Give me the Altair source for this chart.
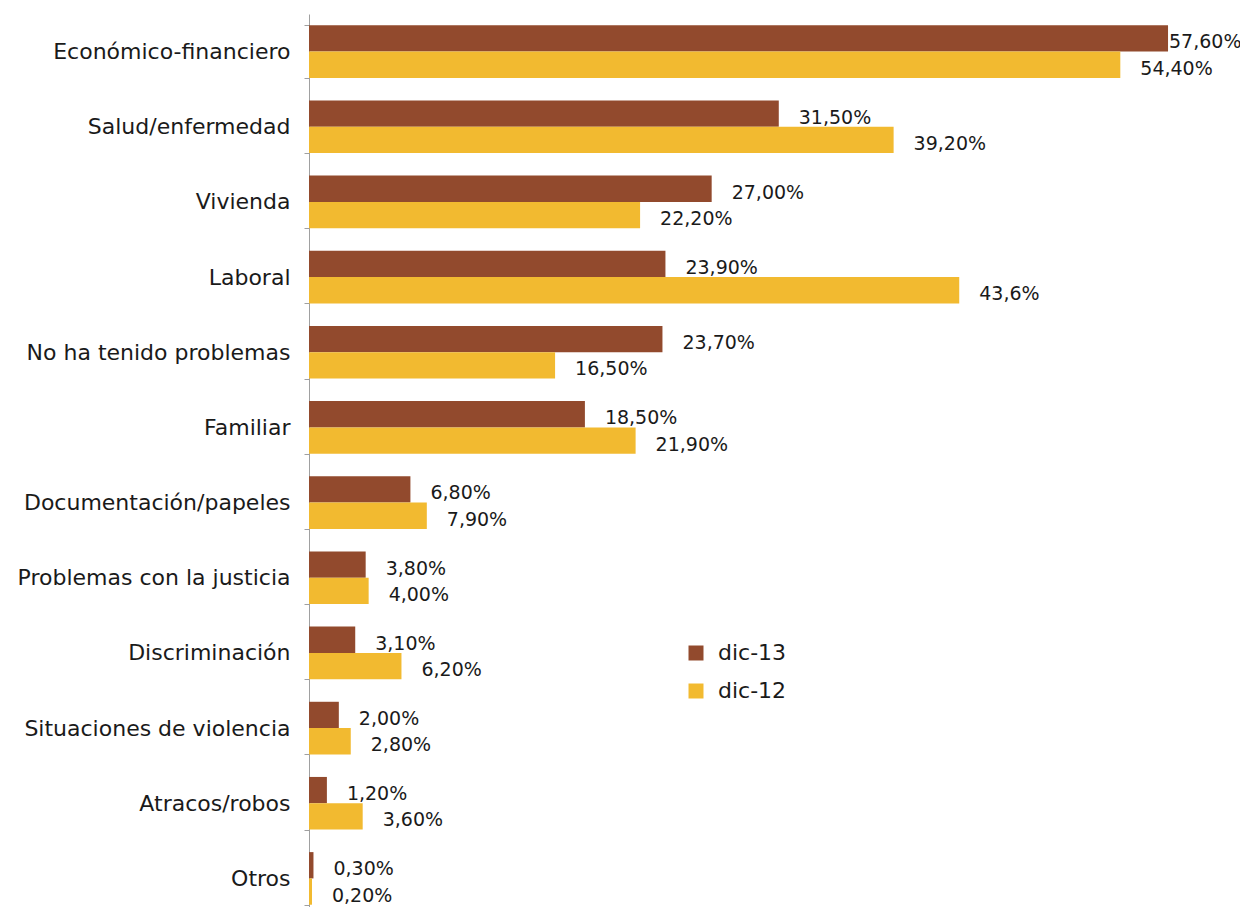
import altair as alt
import pandas as pd

categories = ["Económico-financiero", "Salud/enfermedad", "Vivienda", "Laboral",
              "No ha tenido problemas", "Familiar", "Documentación/papeles",
              "Problemas con la justicia", "Discriminación", "Situaciones de violencia",
              "Atracos/robos", "Otros"]
series = ["dic-13", "dic-12"]
dic13 = [57.6, 31.5, 27.0, 23.9, 23.7, 18.5, 6.8, 3.8, 3.1, 2.0, 1.2, 0.3]
dic12 = [54.4, 39.2, 22.2, 43.6, 16.5, 21.9, 7.9, 4.0, 6.2, 2.8, 3.6, 0.2]
labels13 = ["57,60%", "31,50%", "27,00%", "23,90%", "23,70%", "18,50%", "6,80%",
            "3,80%", "3,10%", "2,00%", "1,20%", "0,30%"]
labels12 = ["54,40%", "39,20%", "22,20%", "43,6%", "16,50%", "21,90%", "7,90%",
            "4,00%", "6,20%", "2,80%", "3,60%", "0,20%"]
colors = ["#924A2D", "#F2BA30"]

rows = []
for i, c in enumerate(categories):
    rows.append({"cat": c, "serie": series[0], "value": dic13[i], "label": labels13[i]})
    rows.append({"cat": c, "serie": series[1], "value": dic12[i], "label": labels12[i]})
df = pd.DataFrame(rows)

FONT = "DejaVu Sans"
TXT = "#1a1a1a"

y = alt.Y("cat:N", sort=categories,
          scale=alt.Scale(paddingInner=0.3, paddingOuter=0.15, range=[0, 902]),
          axis=alt.Axis(title=None, tickBand="extent", domainColor="#a0a0a0",
                        tickColor="#a0a0a0", tickSize=5, labelFontSize=22,
                        labelFont=FONT, labelColor=TXT, labelPadding=14,
                        labelLimit=400))
yoff = alt.YOffset("serie:N", sort=series,
                   scale=alt.Scale(domain=series, paddingInner=0, paddingOuter=0))
x = alt.X("value:Q", scale=alt.Scale(domain=[0, 58], nice=False), axis=None)

base = alt.Chart(df)

bars = base.mark_bar().encode(
    x=x, y=y, yOffset=yoff,
    color=alt.Color("serie:N", sort=series,
                    scale=alt.Scale(domain=series, range=colors),
                    legend=alt.Legend(title=None, orient="none", legendX=376, legendY=628,
                                      symbolType="square", symbolSize=225,
                                      symbolStrokeWidth=0, labelFontSize=22,
                                      labelFont=FONT, labelColor=TXT,
                                      rowPadding=16, labelOffset=11)),
)

text_main = base.mark_text(align="left", baseline="middle", dx=20, dy=4,
                           font=FONT, fontSize=19, color=TXT).encode(
    x=x, y=y, yOffset=yoff, text="label:N"
).transform_filter("datum.value < 56")

text_top = base.mark_text(align="left", baseline="middle", dx=1, dy=4,
                          font=FONT, fontSize=19, color=TXT).encode(
    x=x, y=y, yOffset=yoff, text="label:N"
).transform_filter("datum.value >= 56")

chart = alt.layer(bars, text_main, text_top).properties(
    width=865, height=893, autosize="none",
    padding={"left": 301, "top": 6, "right": 66, "bottom": 0},
).configure_view(stroke=None)

chart.save("out.html", embed_options={"renderer": "svg", "actions": False})
